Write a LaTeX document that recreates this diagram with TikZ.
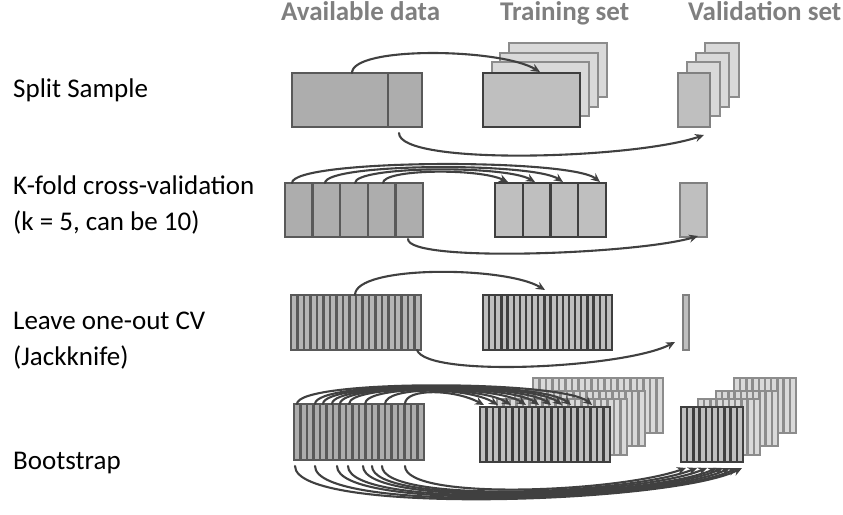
\documentclass[tikz,border=0pt]{standalone}
\usepackage{fontspec}
\setmainfont{Carlito}
\usetikzlibrary{arrows.meta,calc}
\definecolor{hdrc}{HTML}{7F7F7F}
\definecolor{avf}{HTML}{ADADAD}
\definecolor{avd}{HTML}{595959}
\definecolor{trf}{HTML}{BFBFBF}
\definecolor{trd}{HTML}{3F3F3F}
\definecolor{bkf}{HTML}{D9D9D9}
\definecolor{bkd}{HTML}{8C8C8C}
\definecolor{vld}{HTML}{808080}
\definecolor{arc}{HTML}{404040}
\newcommand{\stripebox}[3]{%
  \pgfmathtruncatemacro\nmone{#2-1}%
  \foreach \k in {1,...,\nmone}{%
    \draw[#3, line width=2.4pt] ($(#1.north west)!\k/#2!(#1.north east)$) -- ($(#1.south west)!\k/#2!(#1.south east)$);}%
}
\begin{document}
\begin{tikzpicture}[x=1pt,y=-1pt,
  box/.style={rectangle, inner sep=0pt, outer sep=0pt, anchor=north west},
  availbox/.style={box, fill=avf, draw=avd, line width=2.6pt},
  trainbox/.style={box, fill=trf, draw=trd, line width=2.8pt},
  backbox/.style={box, fill=bkf, draw=bkd, line width=2.4pt},
  valbox/.style={box, fill=trf, draw=vld, line width=2.4pt},
  conn/.style={draw=arc, line width=2.1pt, line cap=round, -{Stealth[length=9pt,width=8pt]}},
  lab/.style={anchor=base west, inner sep=0pt, font=\fontsize{27}{33}\selectfont},
  hdr/.style={anchor=base west, inner sep=0pt, text=hdrc, font=\fontsize{27}{33}\selectfont\bfseries}]
\useasboundingbox (0,0) rectangle (843,514);
% headers
\node[hdr] (h1) at (281,20) {Available data};
\node[hdr] (h2) at (500,20) {Training set};
\node[hdr] (h3) at (688,20) {Validation set};
% labels
\node[lab] (l1) at (13,97) {Split Sample};
\node[lab] (l2) at (13,194) {K-fold cross-validation};
\node[lab] (l2b) at (13,230) {(k = 5, can be 10)};
\node[lab] (l3) at (13,329) {Leave one-out CV};
\node[lab] (l3b) at (13,365) {(Jackknife)};
\node[lab] (l4) at (13,469) {Bootstrap};

% ---------- Row 1: split sample ----------
\node[availbox, minimum width=130pt, minimum height=54pt] (a1) at (292,73) {};
\draw[avd, line width=2.6pt] ($(a1.north west)+(96,0)$) -- ($(a1.south west)+(96,0)$);
\node[backbox, minimum width=98pt, minimum height=54pt] (t1d) at (509,43) {};
\node[backbox, minimum width=98pt, minimum height=54pt] (t1c) at (500,53) {};
\node[backbox, minimum width=97pt, minimum height=54pt] (t1b) at (492,62) {};
\node[trainbox, minimum width=97pt, minimum height=54pt] (t1) at (483,73) {};
\node[backbox, minimum width=34pt, minimum height=54pt] (v1d) at (705,43) {};
\node[backbox, minimum width=33pt, minimum height=54pt] (v1c) at (696,53) {};
\node[backbox, minimum width=33pt, minimum height=54pt] (v1b) at (687,62) {};
\node[valbox, minimum width=32pt, minimum height=54pt] (v1) at (678,73) {};
\draw[conn] ($(a1.north west)+(60,0)$) .. controls +(0,-27) and +(-40,-24) .. ($(t1.north west)+(57,-1)$);
\draw[conn] ($(a1.south west)+(107,6)$) .. controls +(0,33) and +(-70,24) .. ($(v1.south west)+(26,8)$);

% ---------- Row 2: k-fold ----------
\node[availbox, minimum width=138pt, minimum height=54pt] (a2) at (285,183) {};
\stripebox{a2}{5}{avd}
\node[trainbox, minimum width=111pt, minimum height=54pt] (t2) at (495,183) {};
\stripebox{t2}{4}{trd}
\node[valbox, minimum width=27pt, minimum height=54pt] (v2) at (680,183) {};
\foreach \s/\e/\h in {7/105/24, 40/68/20, 70/40/17, 98/13/14}{
  \draw[conn] ($(a2.north west)+(\s,0)$) .. controls +(0,-\h) and +(-30,-\h) .. ($(t2.north west)+(\e,-1)$);
}
\draw[conn] ($(a2.south west)+(123,2)$) .. controls +(0,24) and +(-60,18) .. ($(v2.south west)+(18,-1)$);

% ---------- Row 3: leave one out ----------
\node[availbox, fill=avf!90!white, minimum width=130pt, minimum height=55pt] (a3) at (291,295) {};
\stripebox{a3}{20}{avd}
\node[trainbox, minimum width=129pt, minimum height=55pt] (t3) at (483,295) {};
\stripebox{t3}{21}{trd}
\node[valbox, minimum width=6pt, minimum height=55pt] (v3) at (683,295) {};
\draw[conn] ($(a3.north west)+(64,0)$) .. controls +(0,-30) and +(-40,-24) .. ($(t3.north west)+(62,-5)$);
\draw[conn] ($(a3.south east)+(-4,0)$) .. controls +(10,28) and +(-50,26) .. ($(v3.south west)+(-8,-8)$);

% ---------- Row 4: bootstrap ----------
\node[availbox, minimum width=130pt, minimum height=56pt] (a4) at (294,404) {};
\stripebox{a4}{20}{avd}
\node[backbox, minimum width=130pt, minimum height=55pt] (t4d) at (533,378) {};
\stripebox{t4d}{20}{bkd}
\node[backbox, minimum width=130pt, minimum height=55pt] (t4c) at (515,391) {};
\stripebox{t4c}{20}{bkd}
\node[backbox, minimum width=130pt, minimum height=56pt] (t4b) at (497,399) {};
\stripebox{t4b}{20}{bkd}
\node[trainbox, minimum width=130pt, minimum height=55pt] (t4) at (480,407) {};
\stripebox{t4}{20}{trd}
\node[backbox, minimum width=62pt, minimum height=55pt] (v4d) at (734,378) {};
\stripebox{v4d}{10}{bkd}
\node[backbox, minimum width=62pt, minimum height=55pt] (v4c) at (716,391) {};
\stripebox{v4c}{10}{bkd}
\node[backbox, minimum width=62pt, minimum height=56pt] (v4b) at (698,399) {};
\stripebox{v4b}{10}{bkd}
\node[trainbox, minimum width=62pt, minimum height=55pt] (v4) at (681,407) {};
\stripebox{v4}{10}{trd}
\foreach \s/\e/\h in {3/112/25, 21/91/24, 29/82/23, 38/71/22, 46/59/21, 55/46/20, 71/31/19, 91/18/18, 111/4/16}{
  \draw[conn] ($(a4.north west)+(\s,0)$) .. controls +(0,-\h) and +(-30,-\h) .. ($(t4.north west)+(\e,-2)$);
}
\foreach \s/\e/\h in {1/61/50, 21/56/48, 43/49/46, 54/42/44, 69/36/42, 78/26/40, 88/16/38, 111/5/35}{
  \draw[conn] ($(a4.south west)+(\s,6)$) .. controls +(0,\h) and +(-70,0.7*\h) .. ($(v4.south west)+(\e,6)$);
}
\end{tikzpicture}
\end{document}
